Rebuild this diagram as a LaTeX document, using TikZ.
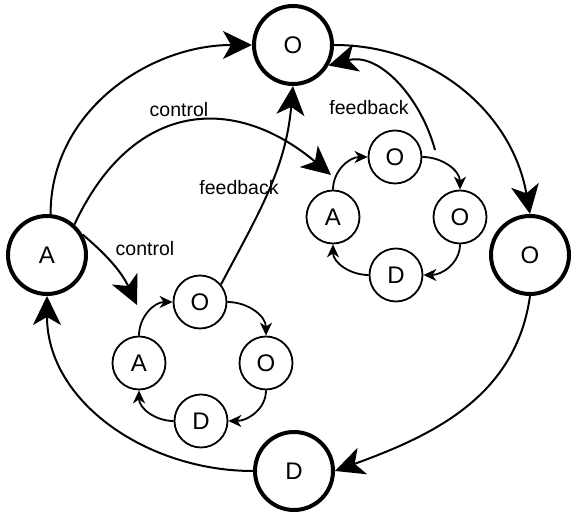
\documentclass[tikz,border=0pt]{standalone}
\usepackage{fontspec}
\setmainfont{Liberation Sans}
\usetikzlibrary{arrows.meta}
\begin{document}
\begin{tikzpicture}[x=1pt,y=1pt,
  big/.style={circle,draw,line width=4pt,minimum size=78pt,inner sep=0pt,font=\fontsize{24}{28}\selectfont},
  small/.style={circle,draw,line width=1.8pt,minimum size=53pt,inner sep=0pt,font=\fontsize{24}{28}\selectfont},
  bigarrow/.style={line width=2pt,-{Stealth[length=29pt,width=28pt,inset=8pt]}},
  smallarrow/.style={line width=1.8pt,-{Stealth[length=13pt,width=12pt,inset=4pt]}},
  lbl/.style={font=\fontsize{19.5}{23}\selectfont,inner sep=0pt}]
\useasboundingbox (0,0) rectangle (576,518);
% big nodes
\node[big] (bO) at (293,473) {O};
\node[big] (bR) at (530,263) {O};
\node[big] (bD) at (294,47) {D};
\node[big] (bA) at (47,263) {A};
% upper cycle
\node[small] (uO) at (395,361) {O};
\node[small] (uR) at (460,301) {O};
\node[small] (uD) at (396,243) {D};
\node[small] (uA) at (333,301) {A};
% lower cycle
\node[small] (lO) at (200,216) {O};
\node[small] (lR) at (266,155) {O};
\node[small] (lD) at (201,97) {D};
\node[small] (lA) at (139,155) {A};
% free ends
\coordinate (ctlU) at (331,343);
\coordinate (ctlL) at (137,213);
\coordinate (fbU) at (435,368);
% big ring
\draw[bigarrow] (bA.85) to[out=90,in=180] (bO.west);
\draw[bigarrow] (bO.east) to[out=0,in=100] (bR.north);
\draw[bigarrow] (bR.south) to[out=-98,in=20] (bD.east);
\draw[bigarrow] (bD.west) to[out=180,in=-90] (bA.south);
% control arcs
\draw[bigarrow] (bA.48) .. controls +(65:136) and +(140:128) .. (ctlU);
\draw[bigarrow] (bA.30) to[out=-40,in=115] (ctlL);
% feedback arcs
\draw[bigarrow] (lO.40) to[out=62,in=-95] (bO.south);
\draw[bigarrow] (fbU) to[out=105,in=15] (bO.-30);
% labels
\node[lbl] (lc1) at (179,408) {control};
\node[lbl] (lf1) at (369,410) {feedback};
\node[lbl] (lf2) at (239,330) {feedback};
\node[lbl] (lc2) at (145,269) {control};
% small cycles
\draw[smallarrow] (uA.north) to[out=90,in=180] (uO.west);
\draw[smallarrow] (uO.east) to[out=0,in=90] (uR.north);
\draw[smallarrow] (uR.south) to[out=-90,in=0] (uD.east);
\draw[smallarrow] (uD.west) to[out=180,in=-90] (uA.south);
\draw[smallarrow] (lA.north) to[out=90,in=180] (lO.west);
\draw[smallarrow] (lO.east) to[out=0,in=90] (lR.north);
\draw[smallarrow] (lR.south) to[out=-90,in=0] (lD.east);
\draw[smallarrow] (lD.west) to[out=180,in=-90] (lA.south);
\end{tikzpicture}
\end{document}
